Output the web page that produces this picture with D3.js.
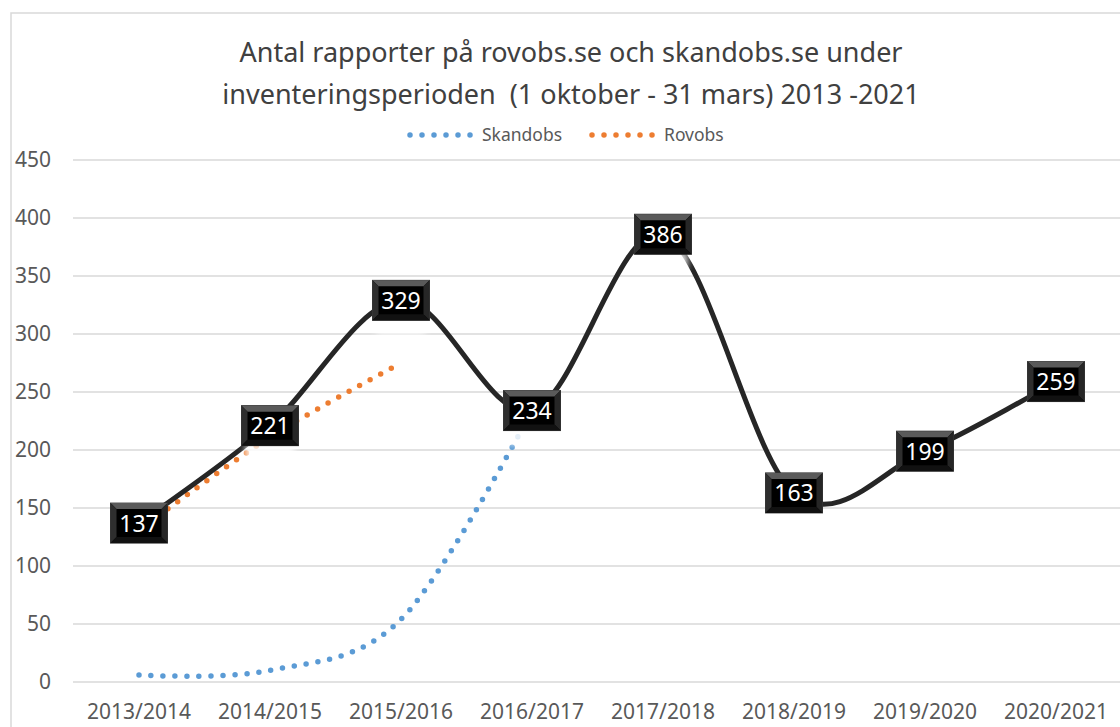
<!DOCTYPE html>
<html>
<head>
<meta charset="utf-8">
<script src="https://cdn.jsdelivr.net/npm/d3@7"></script>
<style>
  body { margin: 0; background: #fff; }
  svg { display: block; font-family: 'Noto Sans', sans-serif; }
</style>
</head>
<body>
<svg id="chart" width="1120" height="727"></svg>
<script>
const seasons = ['2013/2014', '2014/2015', '2015/2016', '2016/2017', '2017/2018', '2018/2019', '2019/2020', '2020/2021'];
const total = [137, 221, 329, 234, 386, 163, 199, 259];
const skandobs = [6, 10, 54, 234, null, null, null, null];
const rovobs = [131, 211, 275, null, null, null, null, null];
const yTicks = [0, 50, 100, 150, 200, 250, 300, 350, 400, 450];
const titleLines = ['Antal rapporter på rovobs.se och skandobs.se under', 'inventeringsperioden  (1 oktober - 31 mars) 2013 -2021'];

const svg = d3.select('#chart');
const defs = svg.append('defs');
defs.append('filter').attr('id', 'glow').attr('x', '-30%').attr('y', '-30%').attr('width', '160%').attr('height', '160%')
  .append('feGaussianBlur').attr('stdDeviation', 3);

// chart frame
svg.append('rect')
  .attr('x', 11).attr('y', 13).attr('width', 1130).attr('height', 740)
  .attr('fill', '#fff').attr('stroke', '#d9d9d9').attr('stroke-width', 1.5);

const x = d3.scalePoint().domain(seasons).range([73.5, 1121.5]).padding(0.5);
const y = d3.scaleLinear().domain([0, 450]).range([682, 160]);

// title
svg.append('g').selectAll('text').data(titleLines).join('text')
  .attr('x', 571).attr('y', (d, i) => 62 + i * 42)
  .attr('text-anchor', 'middle')
  .style('white-space', 'pre')
  .style('font-size', '27px').style('fill', '#404040')
  .text(d => d);

// gridlines
svg.append('g').selectAll('line').data(yTicks).join('line')
  .attr('x1', 73).attr('x2', 1120)
  .attr('y1', d => y(d)).attr('y2', d => y(d))
  .attr('stroke', '#d9d9d9').attr('stroke-width', 1.5);

// y axis labels
svg.append('g').selectAll('text').data(yTicks).join('text')
  .attr('x', 51).attr('y', d => y(d) + 7)
  .attr('text-anchor', 'end')
  .style('font-size', '21px').style('fill', '#595959')
  .text(d => d);

// x axis labels
svg.append('g').selectAll('text').data(seasons).join('text')
  .attr('x', d => x(d)).attr('y', 719)
  .attr('text-anchor', 'middle')
  .style('font-size', '21px').style('fill', '#595959')
  .text(d => d);

const curve = d3.curveCardinal.tension(0);
const dotted = (values, colour) => {
  const pts = seasons.map((s, i) => [s, values[i]]).filter(d => d[1] != null);
  svg.append('path')
    .attr('d', d3.line().x(d => x(d[0])).y(d => y(d[1])).curve(curve)(pts))
    .attr('fill', 'none')
    .attr('stroke', colour)
    .attr('stroke-width', 5.5)
    .attr('stroke-linecap', 'round')
    .attr('stroke-dasharray', '0 12');
};
dotted(skandobs, '#5b9bd5');
dotted(rovobs, '#ed7d31');

// total line
svg.append('path')
  .attr('d', d3.line().x((d, i) => x(seasons[i])).y(d => y(d)).curve(curve)(total))
  .attr('fill', 'none')
  .attr('stroke', '#262626')
  .attr('stroke-width', 5);

// data labels
const bw = 57, bh = 40, bv = 6;
const labels = svg.append('g').selectAll('g').data(total).join('g')
  .attr('transform', (d, i) => `translate(${x(seasons[i])},${y(d)})`);
labels.append('rect')
  .attr('x', -bw / 2 + 4).attr('y', bh / 2 - 2).attr('width', bw - 8).attr('height', 16)
  .attr('fill', '#fff').attr('opacity', 0.85).attr('filter', 'url(#glow)');
labels.append('rect')
  .attr('x', -bw / 2).attr('y', -bh / 2).attr('width', bw).attr('height', bh)
  .attr('fill', '#000').attr('stroke', '#3a3a3a').attr('stroke-width', 1);
const bevel = [
  { c: '#5a5a5a', p: [[-bw / 2, -bh / 2], [bw / 2, -bh / 2], [bw / 2 - bv, -bh / 2 + bv], [-bw / 2 + bv, -bh / 2 + bv]] },
  { c: '#2e2e2e', p: [[-bw / 2, -bh / 2], [-bw / 2 + bv, -bh / 2 + bv], [-bw / 2 + bv, bh / 2 - bv], [-bw / 2, bh / 2]] },
  { c: '#262626', p: [[bw / 2, -bh / 2], [bw / 2, bh / 2], [bw / 2 - bv, bh / 2 - bv], [bw / 2 - bv, -bh / 2 + bv]] },
  { c: '#111', p: [[-bw / 2, bh / 2], [-bw / 2 + bv, bh / 2 - bv], [bw / 2 - bv, bh / 2 - bv], [bw / 2, bh / 2]] }
];
labels.selectAll('polygon').data(bevel).join('polygon')
  .attr('points', d => d.p.map(q => q.join(',')).join(' '))
  .attr('fill', d => d.c);
labels.append('text')
  .attr('y', 8.5)
  .attr('text-anchor', 'middle')
  .style('font-size', '23px').style('fill', '#fff')
  .text(d => d);

// legend
const legend = [
  { name: 'Skandobs', colour: '#5b9bd5', x0: 410 },
  { name: 'Rovobs', colour: '#ed7d31', x0: 592 }
];
const lg = svg.append('g').selectAll('g').data(legend).join('g');
lg.append('line')
  .attr('x1', d => d.x0).attr('x2', d => d.x0 + 61)
  .attr('y1', 135).attr('y2', 135)
  .attr('stroke', d => d.colour).attr('stroke-width', 5.5)
  .attr('stroke-linecap', 'round').attr('stroke-dasharray', '0 12');
lg.append('text')
  .attr('x', d => d.x0 + 72).attr('y', 141)
  .style('font-size', '17.5px').style('fill', '#595959')
  .text(d => d.name);
</script>
</body>
</html>
